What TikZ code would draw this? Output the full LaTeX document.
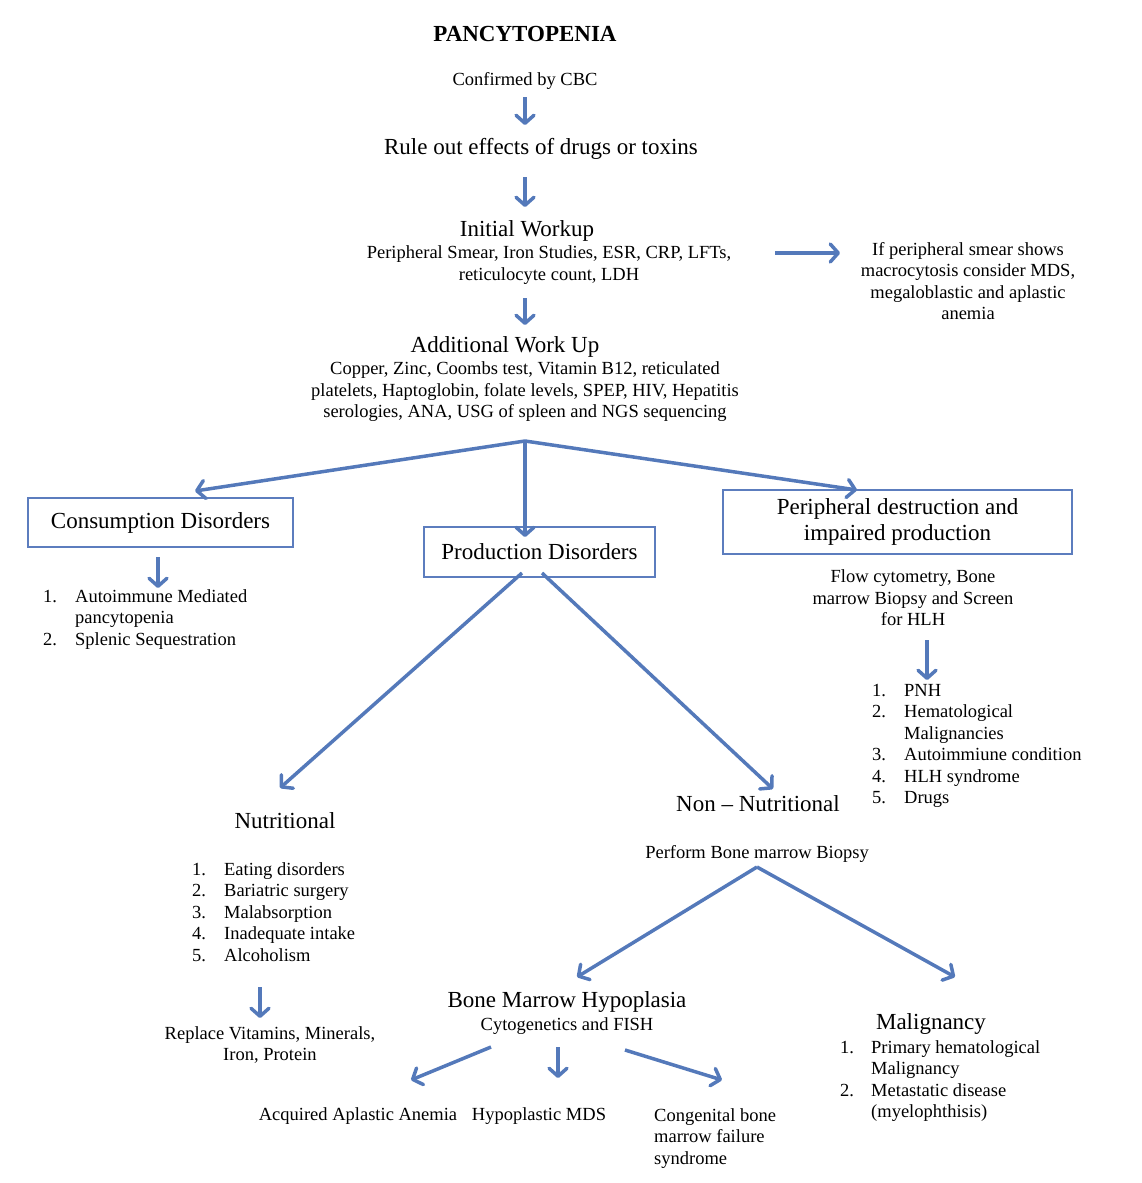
\documentclass[tikz,border=0pt]{standalone}
\usepackage{fontspec}
\setmainfont{Liberation Serif}
\usetikzlibrary{arrows.meta, positioning, calc}
\definecolor{arrowblue}{RGB}{84,121,186}
\definecolor{boxblue}{RGB}{92,125,190}
\tikzstyle{heading} = [font=\fontsize{23}{27}\selectfont\bfseries]
\tikzstyle{big} = [font=\fontsize{23}{26}\selectfont, align=center]
\tikzstyle{small} = [font=\fontsize{18.5}{21.5}\selectfont, align=center]
\tikzstyle{box} = [rectangle, draw=boxblue, line width=1.5pt, text centered]
\tikzstyle{list} = [font=\fontsize{18.5}{21.5}\selectfont, anchor=base west, inner sep=0pt]
\tikzstyle{arrow} = [line width=3.5pt, draw=arrowblue, -{Straight Barb[length=8pt,width=18pt,round]}]

\begin{document}
\begin{tikzpicture}[x=1pt, y=-1pt]
\useasboundingbox (0,0) rectangle (1142,1183);

%<TikZ code>
\node (title) [heading] at (525,34) {PANCYTOPENIA};
\node (cbc) [small] at (525,81) {Confirmed by CBC};
\node (rule) [big] at (541,149) {Rule out effects of drugs or toxins};
\node (init) [big] at (527,231) {Initial Workup};
\node (initsub) [small] at (549,265) {Peripheral Smear, Iron Studies, ESR, CRP, LFTs,\\reticulocyte count, LDH};
\node (note) [small] at (968,281) {If peripheral smear shows\\macrocytosis consider MDS,\\megaloblastic and aplastic\\anemia};
\node (addl) [big] at (505,347) {Additional Work Up};
\node (addlsub) [small] at (525,392) {Copper, Zinc, Coombs test, Vitamin B12, reticulated\\platelets, Haptoglobin, folate levels, SPEP, HIV, Hepatitis\\serologies, ANA, USG of spleen and NGS sequencing};
\coordinate (split) at (525,441);

% three groups of disorders
\node (cons) [box, big, minimum width=265pt, minimum height=49pt] at (160.5,522.5) {Consumption Disorders};
\node (prod) [box, big, minimum width=231pt, minimum height=50pt] at (539.5,552) {Production Disorders};
\node (periph) [box, big, minimum width=349pt, minimum height=64pt] at (897.5,522) {Peripheral destruction and\\impaired production};

\node (conslist) [list] at (43,602) {\begin{tabular}[t]{@{}p{32pt}@{}l@{}}
1. & Autoimmune Mediated\\
   & pancytopenia\\
2. & Splenic Sequestration
\end{tabular}};

\node (periphsub) [small] at (913,598) {Flow cytometry, Bone\\marrow Biopsy and Screen\\for HLH};
\node (periphlist) [list] at (872,696) {\begin{tabular}[t]{@{}p{32pt}@{}l@{}}
1. & PNH\\
2. & Hematological\\
   & Malignancies\\
3. & Autoimmiune condition\\
4. & HLH syndrome\\
5. & Drugs
\end{tabular}};

% production branch
\node (nutr) [big] at (285,821) {Nutritional};
\node (nutrlist) [list] at (192,875) {\begin{tabular}[t]{@{}p{32pt}@{}l@{}}
1. & Eating disorders\\
2. & Bariatric surgery\\
3. & Malabsorption\\
4. & Inadequate intake\\
5. & Alcoholism
\end{tabular}};
\node (replace) [small] at (270,1045) {Replace Vitamins, Minerals,\\Iron, Protein};

\node (nonnutr) [big] at (758,804) {Non – Nutritional};
\node (perform) [small] at (757,854) {Perform Bone marrow Biopsy};
\node (hypo) [big] at (567,1002) {Bone Marrow Hypoplasia};
\node (hyposub) [small] at (567,1026) {Cytogenetics and FISH};
\node (acquired) [small] at (358,1116) {Acquired Aplastic Anemia};
\node (hypomds) [small] at (539,1116) {Hypoplastic MDS};
\node (congenital) [list] at (654,1121) {\begin{tabular}[t]{@{}l@{}}
Congenital bone\\
marrow failure\\
syndrome
\end{tabular}};

\node (malig) [big] at (931,1024) {Malignancy};
\node (maliglist) [list] at (840,1053) {\begin{tabular}[t]{@{}p{31pt}@{}l@{}}
1. & Primary hematological\\
   & Malignancy\\
2. & Metastatic disease\\
   & (myelophthisis)
\end{tabular}};

%% draw arrows here
\draw [arrow] ($(cbc)+(0,16)$) -- ($(cbc)+(0,44)$);
\draw [arrow] ($(rule)+(-16,28)$) -- ($(rule)+(-16,58)$);
\draw [arrow] ($(initsub)+(226,-12)$) -- ($(note)+(-128,-28)$);
\draw [arrow] ($(initsub)+(-24,33)$) -- ($(addl)+(20,-22)$);
\draw [arrow] (split) -- ($(cons)+(34.5,-31.5)$);
\draw [arrow] (split) -- ($(prod)+(-14.5,-15)$);
\draw [arrow] (split) -- ($(periph)+(-40.5,-32)$);
\draw [arrow] ($(cons)+(-2.5,34.5)$) -- ($(conslist.base west)+(115,-14)$);
\draw [arrow] ($(periphsub)+(14,42)$) -- ($(periphlist.base west)+(55,-16)$);
\draw [arrow] ($(prod)+(-17.5,21)$) -- ($(nutr)+(-5,-33)$);
\draw [arrow] ($(prod)+(2.5,21)$) -- ($(nonnutr)+(15,-15)$);
\draw [arrow] ($(nutrlist.base west)+(68,112)$) -- ($(replace)+(-10,-27)$);
\draw [arrow] ($(perform)+(0,13)$) -- ($(hypo)+(10,-25)$);
\draw [arrow] ($(perform)+(0,13)$) -- ($(malig)+(24,-47)$);
\draw [arrow] ($(hyposub)+(-76,21)$) -- ($(acquired)+(53,-36)$);
\draw [arrow] ($(hyposub)+(-9,21)$) -- ($(hypomds)+(19,-38)$);
\draw [arrow] ($(hyposub)+(58,24)$) -- ($(congenital.base west)+(68,-41)$);

\end{tikzpicture}
\end{document}
